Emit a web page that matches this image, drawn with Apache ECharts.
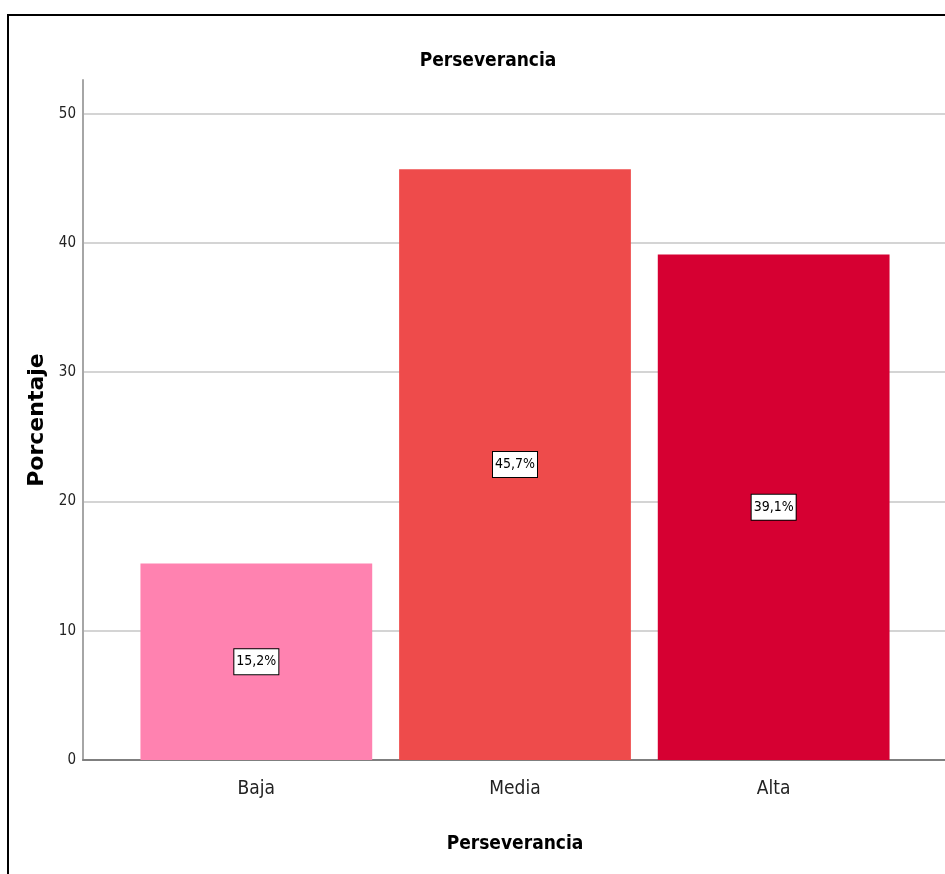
<!DOCTYPE html>
<html>
<head>
<meta charset="utf-8">
<script src="https://cdn.jsdelivr.net/npm/echarts@6/dist/echarts.min.js"></script>
<style>
  html, body { margin: 0; padding: 0; background: #fff; }
  #chart { position: absolute; left: 0; top: 0; width: 945px; height: 874px; }
  #frame { position: absolute; left: 7px; top: 14px; width: 1000px; height: 1000px;
           border-left: 2px solid #000; border-top: 2px solid #000; pointer-events: none; z-index: 5; }
</style>
</head>
<body>
<div id="chart"></div>
<div id="frame"></div>
<script>
const chartTitle = 'Perseverancia';
const xAxisTitle = 'Perseverancia';
const yAxisTitle = 'Porcentaje';
const categories = ['Baja', 'Media', 'Alta'];
const percentages = [15.2, 45.7, 39.1];
const palette = ['#FF82B0', '#EE4B4B', '#D60032'];

const yMax = 52.6;
const narrow = '"DejaVu Sans Condensed", "Liberation Sans", Arial, sans-serif';

const chart = echarts.init(document.getElementById('chart'), null, { renderer: 'canvas' });

const option = {
  backgroundColor: '#ffffff',
  animation: false,
  title: {
    text: chartTitle,
    left: 483,
    top: 47,
    textAlign: 'center',
    textStyle: { fontFamily: narrow, fontWeight: 'bold', fontSize: 19, color: '#000' }
  },
  grid: [
    { left: 83, right: 0, top: 80, bottom: 114, containLabel: false },
    { left: 127, right: 42, top: 80, bottom: 114, containLabel: false }
  ],
  xAxis: [
    {
      gridIndex: 0, type: 'value', min: 0, max: 1,
      axisLine: { show: true, lineStyle: { color: '#7f7f7f', width: 2 } },
      axisTick: { show: false }, axisLabel: { show: false }, splitLine: { show: false }
    },
    {
      gridIndex: 1, type: 'category', data: categories,
      axisLine: { show: false }, axisTick: { show: false },
      axisLabel: { fontFamily: narrow, fontSize: 19, color: '#222', margin: 20 },
      name: xAxisTitle, nameLocation: 'middle', nameGap: 75,
      nameTextStyle: { fontFamily: narrow, fontWeight: 'bold', fontSize: 19, color: '#000' }
    }
  ],
  yAxis: [
    {
      gridIndex: 0, type: 'value', min: 0, max: yMax, interval: 10,
      axisLine: { show: true, lineStyle: { color: '#a6a6a6', width: 2 } },
      axisTick: { show: false },
      axisLabel: {
        fontFamily: narrow, fontSize: 15, color: '#222', margin: 7,
        formatter: v => (Math.abs(v % 10) < 1e-9 ? String(v) : '')
      },
      splitLine: {
        show: true,
        lineStyle: {
          width: 2,
          color: ['#d4d4d4', '#d4d4d4', '#d4d4d4', '#d4d4d4', '#d4d4d4', '#d4d4d4', 'rgba(0,0,0,0)']
        }
      },
      name: yAxisTitle, nameLocation: 'middle', nameGap: 32, nameRotate: 90,
      nameTextStyle: { fontFamily: '"DejaVu Sans", sans-serif', fontWeight: 'bold', fontSize: 22, color: '#000' }
    },
    {
      gridIndex: 1, type: 'value', min: 0, max: yMax, show: false,
      splitLine: { show: false }
    }
  ],
  series: [
    {
      type: 'bar',
      xAxisIndex: 1, yAxisIndex: 1,
      data: percentages,
      colorBy: 'data',
      color: palette,
      barCategoryGap: '10.4%',
      itemStyle: { borderWidth: 0 },
      label: {
        show: true,
        position: 'inside',
        formatter: p => p.value.toFixed(1).replace('.', ',') + '%',
        fontFamily: narrow, fontSize: 14, color: '#000',
        backgroundColor: '#fff', borderColor: '#000', borderWidth: 1,
        padding: [6, 2, 5, 2]
      }
    }
  ]
};

chart.setOption(option);
</script>
</body>
</html>
